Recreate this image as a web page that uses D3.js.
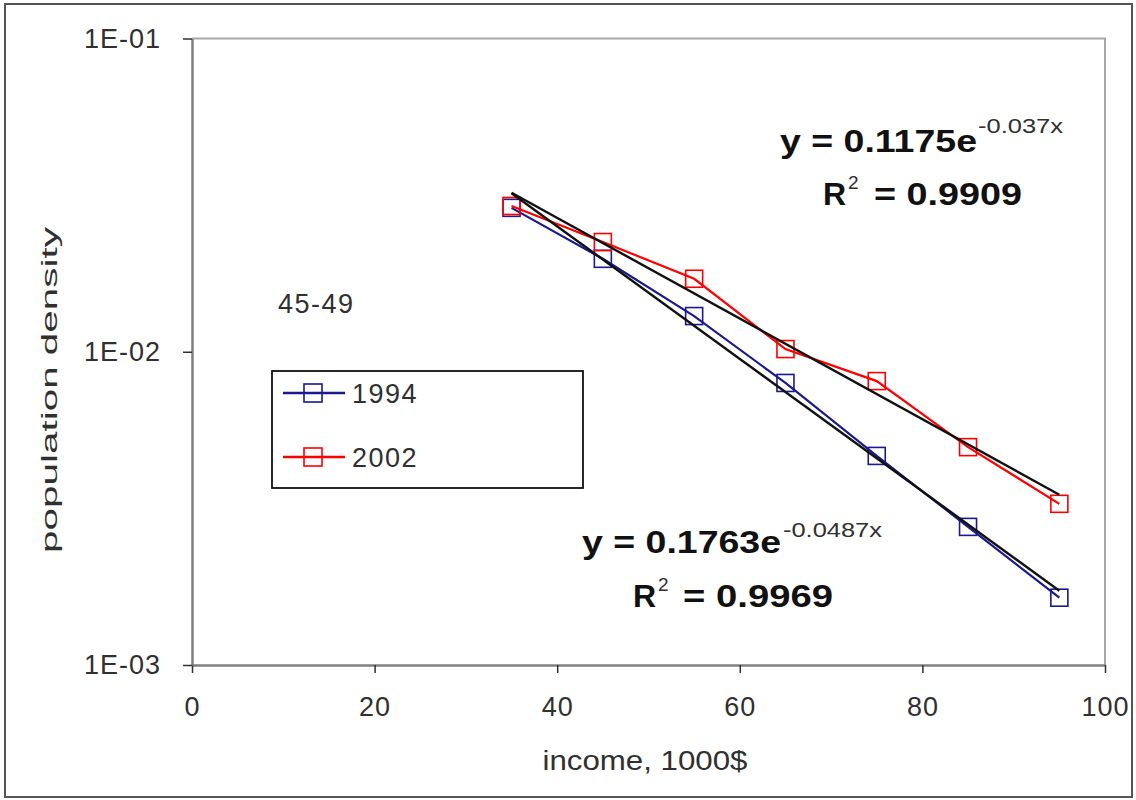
<!DOCTYPE html>
<html>
<head>
<meta charset="utf-8">
<script src="https://cdn.jsdelivr.net/npm/d3@7"></script>
<style>
	body { margin: 0; background: #fff; }
	text { font-family: "Liberation Sans", Arial, sans-serif; fill: #303030; }
</style>
</head>
<body>
<div id="chart"></div>
<script>

// income groups, 1000$
var income = [35, 45, 55, 65, 75, 85, 95];

// population density
var density1994 = [0.0288, 0.0198, 0.0130, 0.00795, 0.00465, 0.00276, 0.00164];
var density2002 = [0.0292, 0.0224, 0.0171, 0.0102, 0.00806, 0.00496, 0.00327];

var seriesNames = ['1994', '2002'];
var seriesColors = ['#1a1a8c', '#ff0000'];

// exponential trendlines shown on the chart: y = a * e^(b x)
var trendA = [0.1763, 0.1175];
var trendB = [-0.0487, -0.037];
var trendR2 = ['0.9969', '0.9909'];

var xTicks = [0, 20, 40, 60, 80, 100];
var yTicks = [0.001, 0.01, 0.1];
var yTickLabels = ['1E-03', '1E-02', '1E-01'];


var W = 1136, H = 800;

var svg = d3.select('#chart')
	.append('svg')
	.attr('width', W)
	.attr('height', H);

// outer frame
svg.append('rect')
	.attr('x', 5).attr('y', 4)
	.attr('width', 1127).attr('height', 793)
	.attr('fill', 'none')
	.attr('stroke', '#555')
	.attr('stroke-width', 2);

var x = d3.scaleLinear().domain([0, 100]).range([192, 1105]);
var y = d3.scaleLog().domain([0.001, 0.1]).range([665, 38.5]);

// plot area: light top / right border
svg.append('path')
	.attr('d', 'M' + x(0) + ',' + y(0.1) + 'H' + x(100) + 'V' + y(0.001))
	.attr('fill', 'none')
	.attr('stroke', '#a8a8a8')
	.attr('stroke-width', 2);

// axes
var xAxis = d3.axisBottom(x)
	.tickValues(xTicks)
	.tickSizeInner(8)
	.tickSizeOuter(0)
	.tickPadding(24);

var yAxis = d3.axisLeft(y)
	.tickValues(yTicks)
	.tickFormat(function (d, i) { return yTickLabels[i]; })
	.tickSizeInner(9)
	.tickSizeOuter(0)
	.tickPadding(22);

var gx = svg.append('g')
	.attr('transform', 'translate(0,' + y(0.001) + ')')
	.call(xAxis);

var gy = svg.append('g')
	.attr('transform', 'translate(' + x(0) + ',0)')
	.call(yAxis);

[gx, gy].forEach(function (g) {
	g.select('.domain').attr('stroke', '#808080').attr('stroke-width', 2.5);
	g.selectAll('.tick line').attr('stroke', '#303030').attr('stroke-width', 1.5);
	g.selectAll('.tick text')
		.attr('font-size', 27)
		.attr('letter-spacing', 1)
		.attr('fill', '#303030')
		.style('font-family', '"Liberation Sans", Arial, sans-serif');
});
gx.selectAll('.tick text').attr('dy', '0.71em');

// axis titles
svg.append('text')
	.attr('x', 645).attr('y', 770)
	.attr('text-anchor', 'middle')
	.attr('font-size', 28)
	.attr('textLength', 205)
	.attr('lengthAdjust', 'spacingAndGlyphs')
	.text('income, 1000$');

svg.append('text')
	.attr('transform', 'translate(57,390) rotate(-90)')
	.attr('text-anchor', 'middle')
	.attr('font-size', 22)
	.attr('textLength', 326)
	.attr('lengthAdjust', 'spacingAndGlyphs')
	.text('population density');

svg.append('text')
	.attr('x', 278).attr('y', 313)
	.attr('font-size', 27)
	.attr('letter-spacing', 1.5)
	.text('45-49');

// series
var allSeries = [density1994, density2002];

var line = d3.line()
	.x(function (d) { return x(d[0]); })
	.y(function (d) { return y(d[1]); });

allSeries.forEach(function (vals, s) {
	var pts = income.map(function (v, i) { return [v, vals[i]]; });

	svg.append('path')
		.datum(pts)
		.attr('d', line)
		.attr('fill', 'none')
		.attr('stroke', seriesColors[s])
		.attr('stroke-width', 2.2);

	svg.selectAll('.mk' + s)
		.data(pts)
		.enter()
		.append('rect')
		.attr('class', 'mk' + s)
		.attr('x', function (d) { return x(d[0]) - 8.5; })
		.attr('y', function (d) { return y(d[1]) - 8.5; })
		.attr('width', 17).attr('height', 17)
		.attr('fill', 'none')
		.attr('stroke', seriesColors[s])
		.attr('stroke-width', 1.6);
});

// trendlines on top
var xExt = d3.extent(income);
trendA.forEach(function (a, s) {
	var pts = xExt.map(function (v) { return [v, a * Math.exp(trendB[s] * v)]; });
	svg.append('path')
		.datum(pts)
		.attr('d', line)
		.attr('fill', 'none')
		.attr('stroke', '#111')
		.attr('stroke-width', 2.4);
});

// trend equations
var eqPos = [
	{ x: 582, y: 553, w: 199, sx: 783, sy: 537, sw: 99, rx: 633, ry: 607, r2x: 658, ex: 683, ew: 150 },
	{ x: 780, y: 152, w: 197, sx: 978, sy: 133, sw: 85, rx: 823, ry: 205, r2x: 848, ex: 874, ew: 148 }
];

eqPos.forEach(function (p, s) {
	svg.append('text')
		.attr('x', p.x).attr('y', p.y)
		.attr('font-size', 32)
		.attr('font-weight', 'bold')
		.attr('textLength', p.w)
		.attr('lengthAdjust', 'spacingAndGlyphs')
		.style('fill', '#111')
		.text('y = ' + trendA[s] + 'e');

	svg.append('text')
		.attr('x', p.sx).attr('y', p.sy)
		.attr('font-size', 20)
		.attr('textLength', p.sw)
		.attr('lengthAdjust', 'spacingAndGlyphs')
		.text(trendB[s] + 'x');

	svg.append('text')
		.attr('x', p.rx).attr('y', p.ry)
		.attr('font-size', 32)
		.attr('font-weight', 'bold')
		.style('fill', '#111')
		.text('R');

	svg.append('text')
		.attr('x', p.r2x).attr('y', p.ry - 16)
		.attr('font-size', 19)
		.text('2');

	svg.append('text')
		.attr('x', p.ex).attr('y', p.ry)
		.attr('font-size', 32)
		.attr('font-weight', 'bold')
		.attr('textLength', p.ew)
		.attr('lengthAdjust', 'spacingAndGlyphs')
		.style('fill', '#111')
		.text('= ' + trendR2[s]);
});

// legend
var legend = svg.append('g');

legend.append('rect')
	.attr('x', 272).attr('y', 371)
	.attr('width', 311).attr('height', 117)
	.attr('fill', '#fff')
	.attr('stroke', '#111')
	.attr('stroke-width', 1.8);

seriesNames.forEach(function (name, s) {
	var ly = 393 + s * 64;

	legend.append('line')
		.attr('x1', 283).attr('x2', 345)
		.attr('y1', ly).attr('y2', ly)
		.attr('stroke', seriesColors[s])
		.attr('stroke-width', 2.5);

	legend.append('rect')
		.attr('x', 304).attr('y', ly - 9)
		.attr('width', 18).attr('height', 18)
		.attr('fill', 'none')
		.attr('stroke', seriesColors[s])
		.attr('stroke-width', 1.6);

	legend.append('text')
		.attr('x', 352).attr('y', ly + 10)
		.attr('font-size', 27)
		.attr('letter-spacing', 1.5)
		.text(name);
});

</script>
</body>
</html>
